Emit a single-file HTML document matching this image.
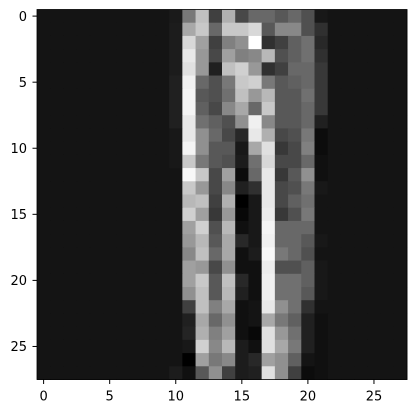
<!DOCTYPE html>
<html><head><meta charset="utf-8"><style>
html,body{margin:0;padding:0;background:#fff;}
svg{display:block;font-family:"DejaVu Sans","Liberation Sans",sans-serif;}
</style></head><body>
<svg id="chart" width="417" height="413" viewBox="0 0 417 413">
<rect width="417" height="413" fill="#fff"/>
<g id="cells"></g>
<g id="axes"></g>
</svg>
<script>
const xTicks = [0, 5, 10, 15, 20, 25];
const yTicks = [0, 5, 10, 15, 20, 25];
const pixels = [
[20,20,20,20,20,20,20,20,20,20,26,120,192,64,176,72,104,104,88,104,80,24,20,20,20,20,20,20],
[20,20,20,20,20,20,20,20,20,20,28,168,200,104,200,200,216,88,136,136,80,48,20,20,20,20,20,20],
[20,20,20,20,20,20,20,20,20,20,28,216,160,64,128,144,255,48,64,96,112,40,20,20,20,20,20,20],
[20,20,20,20,20,20,20,20,20,20,28,232,152,72,160,128,136,184,80,96,112,48,20,20,20,20,20,20],
[20,20,20,20,20,20,20,20,20,20,28,224,152,32,192,208,152,48,64,104,104,56,20,20,20,20,20,20],
[20,20,20,20,20,20,20,20,20,20,32,240,104,80,120,200,208,120,88,96,104,56,20,20,20,20,20,20],
[20,20,20,20,20,20,20,20,20,20,32,244,88,80,112,192,152,184,88,88,112,56,20,20,20,20,20,20],
[20,20,20,20,20,20,20,20,20,20,32,244,96,72,136,168,104,200,88,88,104,56,20,20,20,20,20,20],
[20,20,20,20,20,20,20,20,20,20,32,232,112,96,80,144,240,136,88,88,104,32,20,20,20,20,20,20],
[20,20,20,20,20,20,20,20,20,20,24,232,144,104,72,40,232,176,72,80,120,12,20,20,20,20,20,20],
[20,20,20,20,20,20,20,20,20,20,24,244,144,88,88,24,168,224,56,72,128,12,20,20,20,20,20,20],
[20,20,20,20,20,20,20,20,20,20,24,200,120,88,80,28,112,216,72,72,104,16,20,20,20,20,20,20],
[20,20,20,20,20,20,20,20,20,20,20,248,200,72,160,12,104,232,56,88,144,16,20,20,20,20,20,20],
[20,20,20,20,20,20,20,20,20,20,20,200,152,72,136,32,48,232,72,80,120,24,20,20,20,20,20,20],
[20,20,20,20,20,20,20,20,20,20,20,184,192,64,176,0,24,232,72,96,112,20,20,20,20,20,20,20],
[20,20,20,20,20,20,20,20,20,20,20,208,160,56,152,8,24,236,56,80,120,20,20,20,20,20,20,20],
[20,20,20,20,20,20,20,20,20,20,20,160,208,80,184,16,24,244,104,104,104,20,20,20,20,20,20,20],
[20,20,20,20,20,20,20,20,20,20,20,152,184,88,168,40,24,240,104,104,88,24,20,20,20,20,20,20],
[20,20,20,20,20,20,20,20,20,20,20,136,192,104,168,16,28,248,120,104,80,20,20,20,20,20,20,20],
[20,20,20,20,20,20,20,20,20,20,20,160,152,72,144,16,16,236,80,80,96,24,20,20,20,20,20,20],
[20,20,20,20,20,20,20,20,20,20,20,160,200,88,192,40,16,240,112,112,96,24,20,20,20,20,20,20],
[20,20,20,20,20,20,20,20,20,20,20,144,192,88,184,32,16,240,112,112,88,24,20,20,20,20,20,20],
[20,20,20,20,20,20,20,20,20,20,20,64,192,128,168,16,20,232,144,112,48,20,20,20,20,20,20,20],
[20,20,20,20,20,20,20,20,20,20,20,32,168,104,144,16,20,168,120,96,32,16,20,20,20,20,20,20],
[20,20,20,20,20,20,20,20,20,20,20,36,176,128,160,16,8,224,152,112,32,16,20,20,20,20,20,20],
[20,20,20,20,20,20,20,20,20,20,20,24,208,136,184,28,16,224,168,120,32,16,20,20,20,20,20,20],
[20,20,20,20,20,20,20,20,20,20,20,0,160,120,136,28,40,160,144,96,20,16,20,20,20,20,20,20],
[20,20,20,20,20,20,20,20,20,20,28,16,88,144,64,28,32,224,144,64,12,16,20,20,20,20,20,20]
];

const NS = "http://www.w3.org/2000/svg";
const plotLeft = 37, plotTop = 9.5, plotSize = 370;
const nRows = pixels.length, nCols = pixels[0].length;
const cw = plotSize / nCols, ch = plotSize / nRows;
const xScale = c => plotLeft + (c + 0.5) * cw;
const yScale = r => plotTop + (r + 0.5) * ch;

const cells = document.getElementById('cells');
pixels.forEach((row, r) => {
  row.forEach((v, c) => {
    const el = document.createElementNS(NS, 'rect');
    el.setAttribute('x', (xScale(c) - cw / 2).toFixed(2));
    el.setAttribute('y', (yScale(r) - ch / 2).toFixed(2));
    el.setAttribute('width', (cw + 0.4).toFixed(2));
    el.setAttribute('height', (ch + 0.4).toFixed(2));
    el.setAttribute('fill', `rgb(${v},${v},${v})`);
    
    
    cells.appendChild(el);
  });
});

const axes = document.getElementById('axes');
const frame = document.createElementNS(NS, 'rect');
frame.setAttribute('x', plotLeft); frame.setAttribute('y', plotTop);
frame.setAttribute('width', plotSize); frame.setAttribute('height', plotSize);
frame.setAttribute('fill', 'none'); frame.setAttribute('stroke', '#000'); frame.setAttribute('stroke-width', '0.8');


axes.appendChild(frame);

xTicks.forEach(t => {
  const x = xScale(t);
  const ln = document.createElementNS(NS, 'line');
  ln.setAttribute('x1', x); ln.setAttribute('x2', x);
  ln.setAttribute('y1', plotTop + plotSize); ln.setAttribute('y2', plotTop + plotSize + 4.5);
  ln.setAttribute('stroke', '#000'); ln.setAttribute('stroke-width', '1');
  
  
  axes.appendChild(ln);
  const tx = document.createElementNS(NS, 'text');
  tx.setAttribute('x', x); tx.setAttribute('y', plotTop + plotSize + 21);
  tx.setAttribute('text-anchor', 'middle'); tx.setAttribute('font-size', '13');
  tx.textContent = t;
  
  
  axes.appendChild(tx);
});
yTicks.forEach(t => {
  const y = yScale(t);
  const ln = document.createElementNS(NS, 'line');
  ln.setAttribute('x1', plotLeft - 4.5); ln.setAttribute('x2', plotLeft);
  ln.setAttribute('y1', y); ln.setAttribute('y2', y);
  ln.setAttribute('stroke', '#000'); ln.setAttribute('stroke-width', '1');
  
  
  axes.appendChild(ln);
  const tx = document.createElementNS(NS, 'text');
  tx.setAttribute('x', plotLeft - 10); tx.setAttribute('y', y + 4.7);
  tx.setAttribute('text-anchor', 'end'); tx.setAttribute('font-size', '13');
  tx.textContent = t;
  
  
  axes.appendChild(tx);
});
</script>
</body></html>
